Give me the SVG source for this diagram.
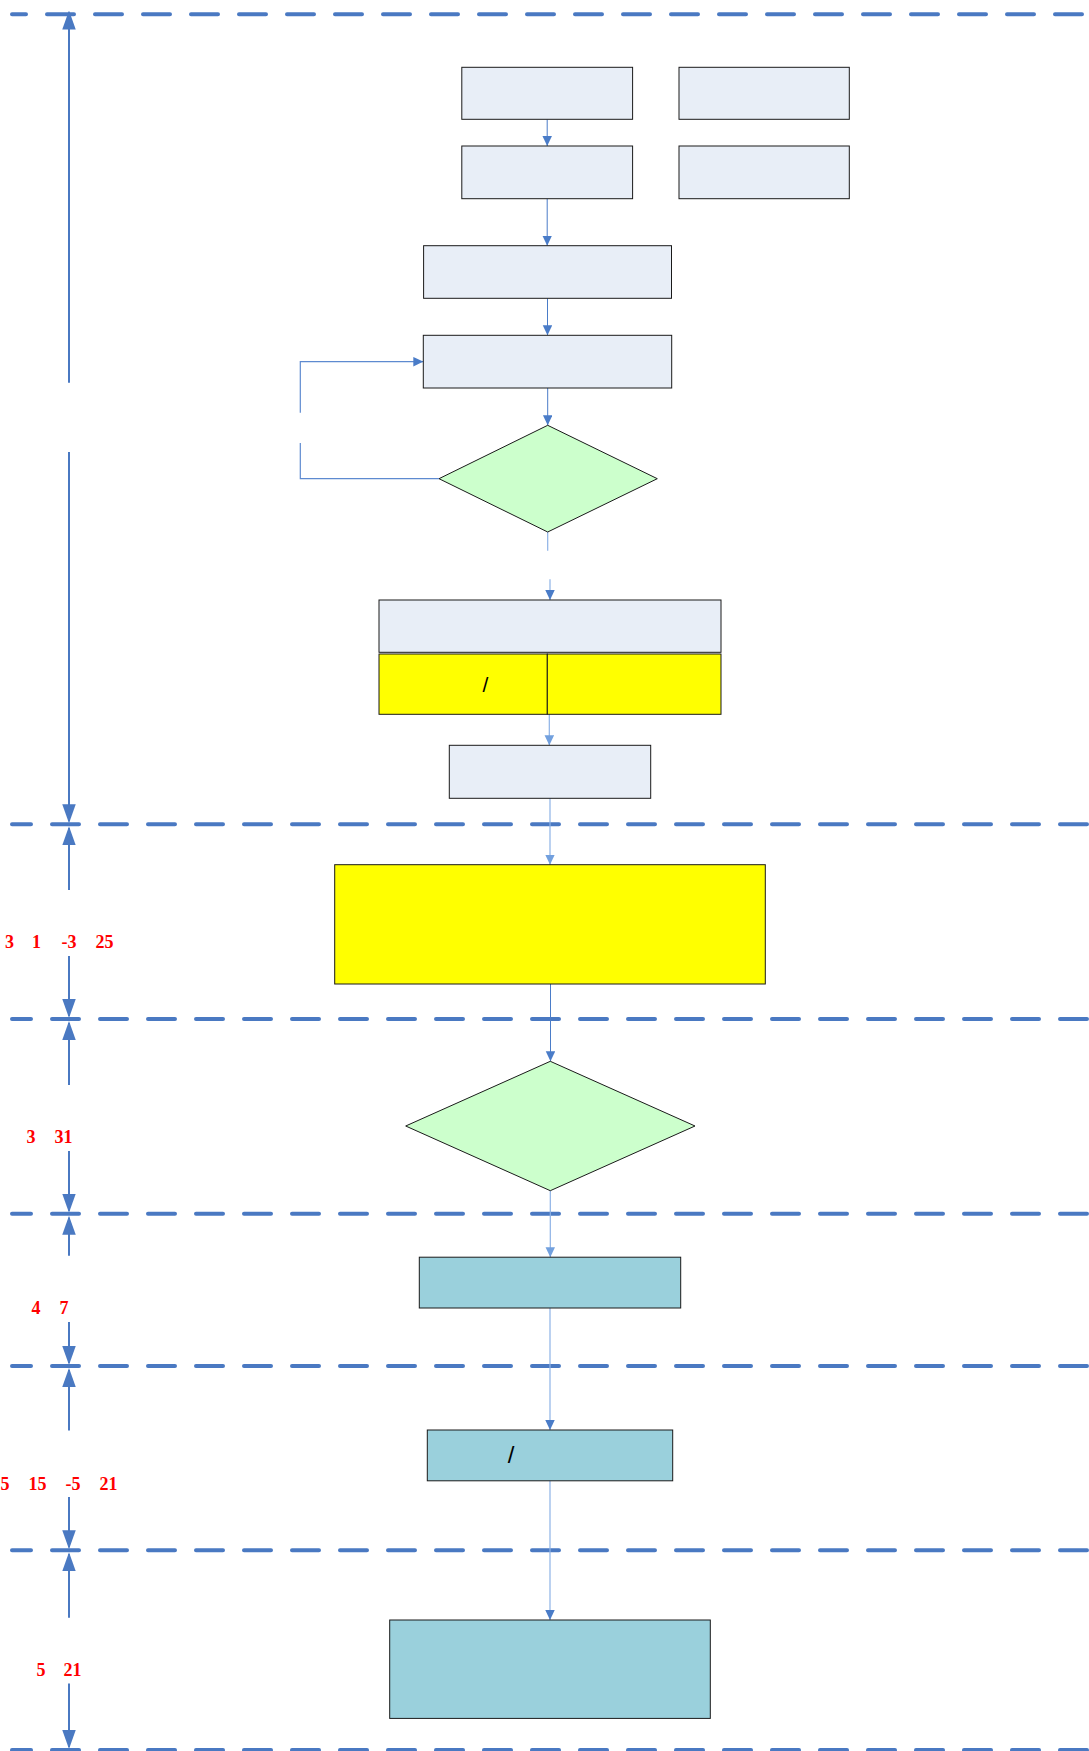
<svg xmlns="http://www.w3.org/2000/svg" width="1089" height="1751" viewBox="0 0 1089 1751">
<style>
.bg{fill:#FFFFFF}
.band{stroke:#4A79C2;stroke-width:4;stroke-linecap:round;stroke-dasharray:27 21;fill:none}
.axis{stroke:#4A79C2;stroke-width:2;fill:none}
.box{fill:#E8EEF7;stroke:#1A1A1A;stroke-width:1}
.yel{fill:#FFFF00;stroke:#1A1A1A;stroke-width:1}
.dec{fill:#CCFFCC;stroke:#1A1A1A;stroke-width:1}
.blu{fill:#9AD0DC;stroke:#1A1A1A;stroke-width:1}
.cd{stroke:#4A7CC8;stroke-width:1;fill:none}
.cl{stroke:#8DB2E6;stroke-width:1.2;fill:none}
.cm{stroke:#5E8AD0;stroke-width:1.2;fill:none}
.num{font-family:"Liberation Serif","Times New Roman",serif;font-weight:bold;font-size:18px;fill:#FF0000}
.sl{font-family:"Liberation Sans",Arial,sans-serif;fill:#000000;text-anchor:middle}
</style>
<defs>
<marker id="ax" markerUnits="userSpaceOnUse" markerWidth="19" markerHeight="14" refX="17" refY="6.75" orient="auto-start-reverse">
<path d="M0,0 L19,6.75 L0,13.5 z" fill="#4A79C2"/>
</marker>
<marker id="ad" markerUnits="userSpaceOnUse" markerWidth="10" markerHeight="10" refX="10" refY="4.75" orient="auto">
<path d="M0,0 L10,4.75 L0,9.5 z" fill="#4A7CC8"/>
</marker>
<marker id="al" markerUnits="userSpaceOnUse" markerWidth="10" markerHeight="10" refX="10" refY="4.75" orient="auto">
<path d="M0,0 L10,4.75 L0,9.5 z" fill="#72A0DE"/>
</marker>
</defs>
<rect class="bg" x="0" y="0" width="1089" height="1751"/>

<g id="bands">
<line class="band" x1="12" y1="14.3" x2="1089" y2="14.3" stroke-dashoffset="13"/>
<line class="band" x1="12" y1="824.3" x2="1089" y2="824.3" stroke-dashoffset="8"/>
<line class="band" x1="12" y1="1019" x2="1089" y2="1019" stroke-dashoffset="8"/>
<line class="band" x1="12" y1="1213.8" x2="1089" y2="1213.8" stroke-dashoffset="8"/>
<line class="band" x1="12" y1="1366" x2="1089" y2="1366" stroke-dashoffset="8"/>
<line class="band" x1="12" y1="1550.2" x2="1089" y2="1550.2" stroke-dashoffset="8"/>
<line class="band" x1="12" y1="1750" x2="1089" y2="1750" stroke-dashoffset="8"/>
</g>

<g id="axis">
<line class="axis" x1="69" y1="382.7" x2="69" y2="12.5" marker-end="url(#ax)"/>
<line class="axis" x1="69" y1="452" x2="69" y2="821.3" marker-end="url(#ax)"/>
<line class="axis" x1="69" y1="890" x2="69" y2="828.3" marker-end="url(#ax)"/>
<line class="axis" x1="69" y1="956" x2="69" y2="1016" marker-end="url(#ax)"/>
<line class="axis" x1="69" y1="1085" x2="69" y2="1023" marker-end="url(#ax)"/>
<line class="axis" x1="69" y1="1151" x2="69" y2="1210.8" marker-end="url(#ax)"/>
<line class="axis" x1="69" y1="1255.7" x2="69" y2="1217.8" marker-end="url(#ax)"/>
<line class="axis" x1="69" y1="1322" x2="69" y2="1363" marker-end="url(#ax)"/>
<line class="axis" x1="69" y1="1430.5" x2="69" y2="1370" marker-end="url(#ax)"/>
<line class="axis" x1="69" y1="1497" x2="69" y2="1547.2" marker-end="url(#ax)"/>
<line class="axis" x1="69" y1="1617.7" x2="69" y2="1554.2" marker-end="url(#ax)"/>
<line class="axis" x1="69" y1="1683.6" x2="69" y2="1747" marker-end="url(#ax)"/>
</g>

<g id="labels">
<text class="num" y="948.3"><tspan x="5">3</tspan><tspan x="32">1</tspan><tspan x="61.5">-3</tspan><tspan x="95.5">25</tspan></text>
<text class="num" y="1142.7"><tspan x="26.5">3</tspan><tspan x="54.5">31</tspan></text>
<text class="num" y="1314"><tspan x="31.5">4</tspan><tspan x="59.5">7</tspan></text>
<text class="num" y="1489.5"><tspan x="0.5">5</tspan><tspan x="28.5">15</tspan><tspan x="65.5">-5</tspan><tspan x="99.5">21</tspan></text>
<text class="num" y="1676"><tspan x="36.5">5</tspan><tspan x="63.5">21</tspan></text>
</g>

<g id="connectors">
<line class="cd" x1="547.2" y1="119.5" x2="547.2" y2="146" marker-end="url(#ad)"/>
<line class="cd" x1="547.2" y1="198.7" x2="547.2" y2="245.7" marker-end="url(#ad)"/>
<line class="cd" x1="547.5" y1="298.3" x2="547.5" y2="335.3" marker-end="url(#ad)"/>
<line class="cd" x1="547.7" y1="388" x2="547.7" y2="425.3" marker-end="url(#ad)"/>
<line class="cl" x1="547.7" y1="532" x2="547.7" y2="550.7"/>
<line class="cl" x1="550" y1="579.3" x2="550" y2="600" marker-end="url(#ad)"/>
<polyline class="cm" points="439,478.7 300.3,478.7 300.3,443"/>
<polyline class="cm" points="300.3,412.7 300.3,361.7 423.3,361.7" marker-end="url(#ad)"/>
<line class="cl" x1="549.3" y1="714.3" x2="549.3" y2="745.3" marker-end="url(#al)"/>
<line class="cl" x1="550" y1="798.3" x2="550" y2="864.7" marker-end="url(#al)"/>
<line class="cd" x1="550.5" y1="984" x2="550.5" y2="1061.3" marker-end="url(#ad)"/>
<line class="cl" x1="550.3" y1="1190.7" x2="550.3" y2="1257.2" marker-end="url(#al)"/>
<line class="cl" x1="550" y1="1308" x2="550" y2="1430" marker-end="url(#ad)"/>
<line class="cl" x1="550" y1="1480.8" x2="550" y2="1620" marker-end="url(#ad)"/>
</g>

<g id="node-a"><rect class="box" x="461.8" y="67.3" width="170.8" height="52"/></g>
<g id="node-b"><rect class="box" x="679" y="67.3" width="170.3" height="52"/></g>
<g id="node-c"><rect class="box" x="461.8" y="146" width="170.8" height="52.7"/></g>
<g id="node-d"><rect class="box" x="679" y="146" width="170.3" height="52.7"/></g>
<g id="node-e"><rect class="box" x="423.6" y="245.7" width="247.9" height="52.6"/></g>
<g id="node-f"><rect class="box" x="423.3" y="335.3" width="248.4" height="52.7"/></g>
<g id="node-decision1"><polygon class="dec" points="547.7,425.3 657.3,478.7 547.7,532 439,478.7"/></g>
<g id="node-g"><rect class="box" x="379" y="600" width="342" height="52.3"/></g>
<g id="node-g-left"><rect class="yel" x="379" y="654" width="168.3" height="60.3"/><text class="sl" x="485.5" y="692" font-size="21">/</text></g>
<g id="node-g-right"><rect class="yel" x="547.3" y="654" width="173.7" height="60.3"/></g>
<g id="node-h"><rect class="box" x="449.3" y="745.3" width="201.4" height="53"/></g>
<g id="node-big"><rect class="yel" x="334.7" y="864.7" width="430.6" height="119.3"/></g>
<g id="node-decision2"><polygon class="dec" points="550.3,1061.3 695,1126 550.3,1190.7 405.7,1126"/></g>
<g id="node-blue1"><rect class="blu" x="419.3" y="1257.2" width="261.4" height="50.8"/></g>
<g id="node-blue2"><rect class="blu" x="427.3" y="1430" width="245.4" height="50.8"/><text class="sl" x="511" y="1463" font-size="24">/</text></g>
<g id="node-blue3"><rect class="blu" x="389.7" y="1620" width="320.6" height="98.4"/></g>
</svg>
